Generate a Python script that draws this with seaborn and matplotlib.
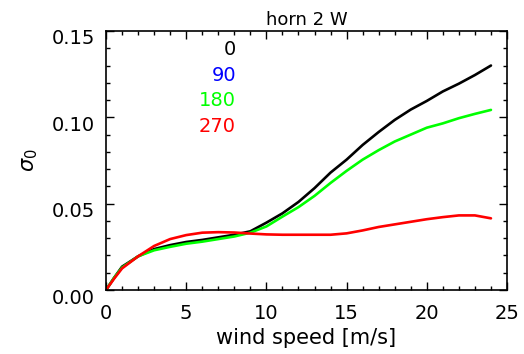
import numpy as np
import pandas as pd
import matplotlib
matplotlib.use("Agg")
import matplotlib.pyplot as plt
import matplotlib.transforms as mtransforms
import seaborn as sns
from matplotlib.ticker import MultipleLocator

# Data
wind = [0, 0.5, 1, 2, 3, 4, 5, 6, 7, 8, 9, 10, 11, 12, 13, 14, 15, 16, 17, 18, 19, 20, 21, 22, 23, 24]
s0 = [0, 0.007, 0.0135, 0.0195, 0.0237, 0.026, 0.0278, 0.029, 0.0305, 0.032, 0.034, 0.039, 0.0444,
      0.051, 0.059, 0.068, 0.0755, 0.084, 0.0915, 0.0985, 0.1045, 0.1095, 0.115, 0.1195, 0.1245, 0.130]
s180 = [0, 0.007, 0.013, 0.0195, 0.023, 0.025, 0.0268, 0.028, 0.0295, 0.031, 0.0332, 0.0368, 0.0425,
        0.048, 0.0545, 0.062, 0.069, 0.0755, 0.081, 0.086, 0.090, 0.094, 0.0965, 0.0995, 0.102, 0.1043]
s270 = [0, 0.0065, 0.0125, 0.0195, 0.0255, 0.0295, 0.0318, 0.0332, 0.0335, 0.0333, 0.0327, 0.0322, 0.032,
        0.032, 0.032, 0.032, 0.0328, 0.0345, 0.0365, 0.038, 0.0395, 0.041, 0.0422, 0.0432, 0.0432, 0.0415]

labels = ["0", "90", "180", "270"]
colors = ["black", "#0000ff", "#00ff00", "#ff0000"]
xticks = [0, 5, 10, 15, 20, 25]
yticks = [0.00, 0.05, 0.10, 0.15]

df = pd.concat([
    pd.DataFrame({"wind": wind, "sigma": s0, "dir": "0"}),
    pd.DataFrame({"wind": wind, "sigma": s180, "dir": "180"}),
    pd.DataFrame({"wind": wind, "sigma": s270, "dir": "270"}),
])

sns.set_style("ticks")
plt.rcParams["font.family"] = ["DejaVu Sans"]
plt.rcParams["text.color"] = "black"
plt.rcParams["axes.labelcolor"] = "black"
plt.rcParams["xtick.color"] = "black"
plt.rcParams["ytick.color"] = "black"

fig = plt.figure(figsize=(5.24, 3.54), dpi=100)
ax = fig.add_axes([106 / 524, 1 - 290 / 354, 401 / 524, 259 / 354])

sns.lineplot(data=df, x="wind", y="sigma", hue="dir",
             palette={"0": "black", "180": "#00ff00", "270": "#ff0000"},
             linewidth=1.9, legend=False, ax=ax)

ax.set_xlim(0, 25)
ax.set_ylim(0, 0.15)
ax.set_xticks(xticks)
ax.set_xticklabels([str(t) for t in xticks])
ax.set_yticks(yticks)
ax.set_yticklabels([f"{t:.2f}" for t in yticks])
ax.xaxis.set_minor_locator(MultipleLocator(1))
ax.yaxis.set_minor_locator(MultipleLocator(0.01))
ax.tick_params(which="both", direction="in", top=True, right=True, colors="black",
               labelcolor="black")
ax.tick_params(which="major", length=6, width=1, labelsize=14)
ax.tick_params(axis="x", which="major", pad=10)
ax.tick_params(axis="y", which="major", pad=8)
ax.tick_params(which="minor", length=3, width=1)
for sp in ax.spines.values():
    sp.set_linewidth(1.2)
    sp.set_color("black")

# IDL-style: y tick labels sit slightly below their ticks
offset = mtransforms.ScaledTranslation(0, -6 / 100, fig.dpi_scale_trans)
for lbl in ax.get_yticklabels():
    lbl.set_transform(lbl.get_transform() + offset)

ax.set_xlabel("wind speed [m/s]", fontsize=15, labelpad=4, color="black")
ax.set_ylabel(r"$\sigma_0$", fontsize=15, labelpad=8, color="black")
ax.set_title("horn 2 W", fontsize=13, pad=4, color="black")

ypos = [0.139, 0.1245, 0.1098, 0.0948]
for lab, col, yp in zip(labels, colors, ypos):
    ax.text(8.1, yp, lab, color=col, fontsize=14, ha="right", va="center")

fig.savefig("out.png", dpi=100)
